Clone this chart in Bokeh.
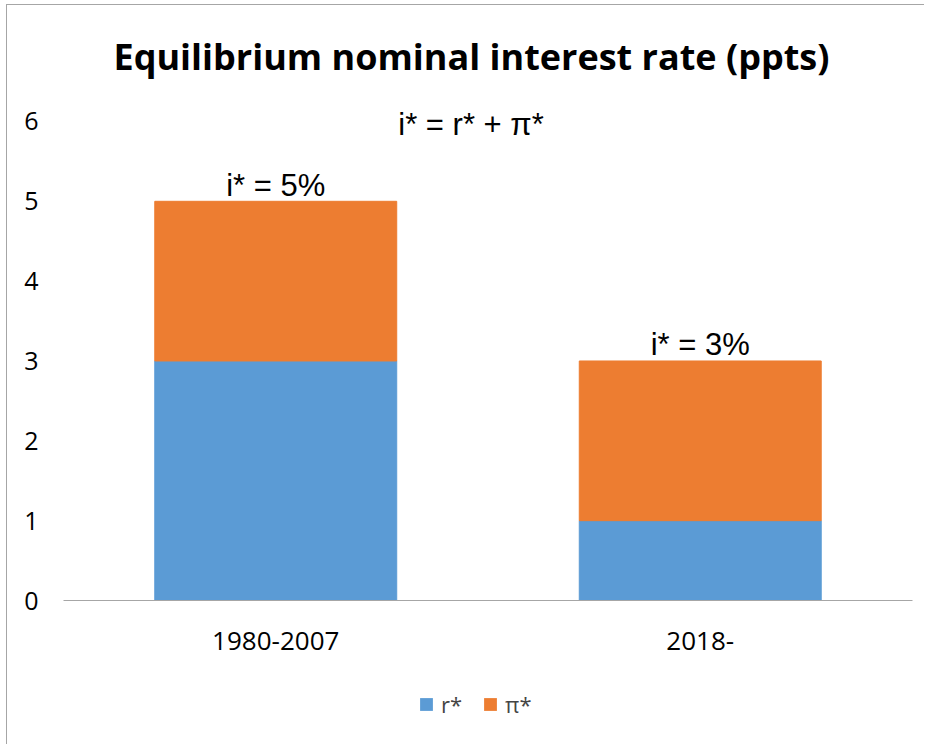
from bokeh.plotting import figure
from bokeh.layouts import column
from bokeh.models import (ColumnDataSource, FactorRange, Range1d, FixedTicker,
                          Legend, LegendItem, Label)
from bokeh.core.properties import value
from bokeh.embed import file_html
from bokeh.resources import INLINE

# ---- data ----
periods = ["1980-2007", "2018-"]
r_star = [3, 1]
pi_star = [2, 2]
totals_labels = ["i* = 5%", "i* = 3%"]
series_names = ["r*", "π*"]
y_ticks = [0, 1, 2, 3, 4, 5, 6]
title_text = "Equilibrium nominal interest rate (ppts)"
formula_text = "i* = r* + π*"

BLUE = "#5B9BD5"
ORANGE = "#ED7D31"
BORDER = "#a6a6a6"
TICK_FONT = "Open Sans"
ANN_FONT = "Liberation Sans"

totals = [a + b for a, b in zip(r_star, pi_star)]
src = ColumnDataSource(dict(period=periods, r=r_star, pi=pi_star,
                            total=totals, lab=totals_labels))

p = figure(x_range=FactorRange(*periods), y_range=Range1d(0, 6.2),
           width=918, height=660, output_backend="svg", toolbar_location=None,
           min_border_left=56, min_border_right=13, min_border_top=100,
           min_border_bottom=65)

p.title.text = title_text
p.title.text_font = TICK_FONT
p.title.text_font_style = "bold"
p.title.text_font_size = "36px"
p.title.align = "left"
p.title.offset = 50
p.title.standoff = 49
p.title.text_color = "#000000"

rs = p.vbar_stack(["r", "pi"], x="period", width=0.57, source=src,
                  color=[BLUE, ORANGE])

# totals above bars
p.text(x="period", y="total", text="lab", source=src,
       text_font=value(ANN_FONT), text_font_size="31px", text_align="center",
       text_baseline="alphabetic", y_offset=-16, text_color="#000000")

formula = Label(x=0.96, y=5.83, y_offset=11, text=formula_text,
                text_font=ANN_FONT, text_font_size="31px", text_align="center",
                text_baseline="alphabetic", text_color="#000000")
p.add_layout(formula)

p.xgrid.visible = False
p.ygrid.visible = False
p.outline_line_color = None

p.xaxis.axis_line_color = BORDER
p.xaxis.major_tick_line_color = None
p.xaxis.minor_tick_line_color = None
p.xaxis.major_label_text_font = TICK_FONT
p.xaxis.major_label_text_font_size = "26px"
p.xaxis.major_label_text_color = "#000000"
p.xaxis.major_label_standoff = 25

p.yaxis.ticker = FixedTicker(ticks=y_ticks)
p.yaxis.axis_line_color = None
p.yaxis.major_tick_line_color = None
p.yaxis.minor_tick_line_color = None
p.yaxis.major_label_text_font = TICK_FONT
p.yaxis.major_label_text_font_size = "25px"
p.yaxis.major_label_text_color = "#000000"
p.yaxis.major_label_standoff = 19

# ---- legend strip below the chart (same series, renderers hidden) ----
lg = figure(x_range=FactorRange(*periods), y_range=Range1d(0, 6),
            width=918, height=80, output_backend="svg", toolbar_location=None,
            x_axis_type=None, y_axis_type=None, min_border=0)
lg.outline_line_color = None
lg.xgrid.visible = False
lg.ygrid.visible = False
lrs = lg.vbar_stack(["r", "pi"], x="period", width=0.57, source=src,
                    fill_color=[BLUE, ORANGE], line_color=None)
for r in lrs:
    r.visible = False
legend = Legend(items=[LegendItem(label=series_names[0], renderers=[lrs[0]]),
                       LegendItem(label=series_names[1], renderers=[lrs[1]])],
                orientation="horizontal", location=(355, 26),
                label_text_font=TICK_FONT, label_text_font_size="22px",
                glyph_width=16, glyph_height=16, label_standoff=7,
                spacing=20, border_line_color=None, background_fill_alpha=0,
                inactive_fill_alpha=0, padding=0, margin=0, label_height=20)
lg.add_layout(legend, "center")

layout = column(p, lg, spacing=0, margin=(5, 0, 0, 7),
                styles={"box-shadow": "-1px -1px 0 0 " + BORDER})
open("out.html", "w").write(file_html(layout, INLINE))
